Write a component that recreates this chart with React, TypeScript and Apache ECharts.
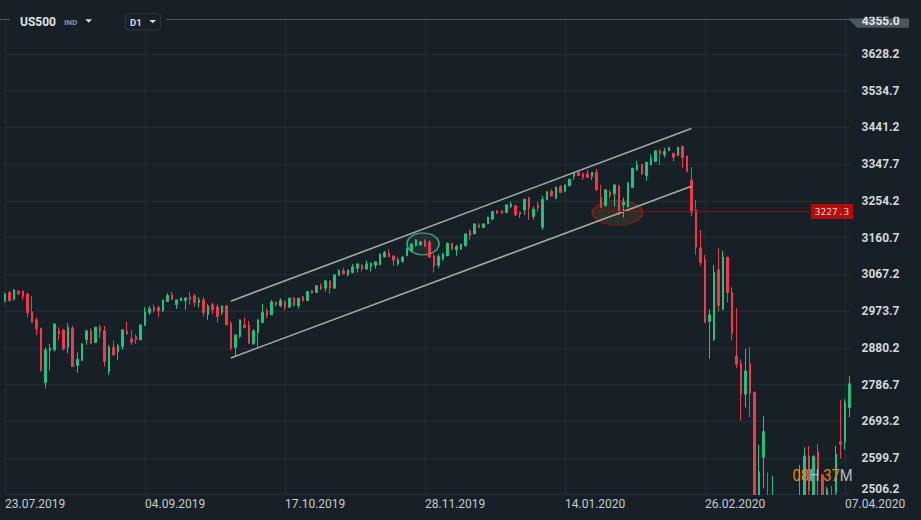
import React, { useEffect, useRef } from "react";
import * as echarts from "echarts";

// ---- data ----
const tickDates = ["23.07.2019", "04.09.2019", "17.10.2019", "28.11.2019", "14.01.2020", "26.02.2020", "07.04.2020"];
const barsPerTick = 31;

// each candle: [open, close, low, high]
const candles = [
  [3000.5, 3017.5, 2995.4, 3020.9], [3020.9, 3000.5, 2998.0, 3025.1], [3003.9, 3027.7, 3000.5, 3029.4], [3024.3, 3017.5, 3014.1, 3026.0],
  [3025.1, 3010.7, 3002.2, 3025.1], [3017.5, 2970.0, 2957.2, 3019.2], [2971.7, 2944.5, 2944.5, 3012.4], [2951.3, 2928.4, 2913.1, 2958.1],
  [2930.1, 2822.3, 2819.8, 2930.1], [2791.7, 2874.9, 2776.5, 2881.7], [2873.2, 2880.0, 2822.3, 2890.2], [2874.9, 2941.1, 2870.7, 2941.1],
  [2923.3, 2915.7, 2898.7, 2932.6], [2925.8, 2877.5, 2873.2, 2927.5], [2880.9, 2932.6, 2866.4, 2942.8], [2930.1, 2832.5, 2832.5, 2936.0],
  [2835.0, 2851.1, 2817.2, 2869.0], [2847.8, 2890.2, 2847.8, 2891.9], [2900.4, 2923.3, 2887.6, 2925.8], [2923.3, 2891.0, 2891.0, 2930.1],
  [2893.6, 2932.6, 2893.6, 2932.6], [2932.6, 2921.6, 2904.6, 2938.6], [2923.3, 2845.2, 2832.5, 2936.0], [2819.8, 2881.7, 2811.3, 2887.6],
  [2881.7, 2862.2, 2859.6, 2897.8], [2870.7, 2885.1, 2849.4, 2890.2], [2883.4, 2925.8, 2874.9, 2927.5], [2923.3, 2915.7, 2913.1, 2946.2],
  [2902.9, 2895.3, 2887.6, 2925.8], [2908.9, 2900.4, 2890.2, 2914.8], [2900.4, 2938.6, 2900.4, 2938.6], [2936.9, 2971.7, 2936.9, 2983.5],
  [2970.0, 2979.3, 2964.0, 2986.9], [2983.5, 2975.1, 2970.0, 2990.3], [2982.7, 2974.2, 2957.2, 2986.9], [2974.2, 3002.2, 2971.7, 3002.2],
  [2998.0, 3013.3, 2998.0, 3019.2], [3015.0, 3003.1, 3003.1, 3022.6], [2990.3, 3002.2, 2979.3, 3002.2], [2999.7, 3007.3, 2999.7, 3007.3],
  [3000.5, 3007.3, 2976.8, 3007.3], [3009.9, 3003.1, 2990.3, 3022.6], [3012.4, 2995.4, 2985.2, 3017.5], [2995.4, 3002.2, 2982.7, 3009.0],
  [3002.2, 2970.0, 2959.8, 3009.0], [2964.9, 2986.9, 2951.3, 2992.0], [2989.5, 2976.8, 2965.7, 2995.4], [2984.4, 2959.8, 2944.5, 2991.2],
  [2970.0, 2987.0, 2964.0, 2987.0], [2987.0, 2938.6, 2938.6, 2987.0], [2942.0, 2879.0, 2873.0, 2948.0], [2880.8, 2913.1, 2857.9, 2913.1],
  [2908.9, 2951.3, 2905.0, 2952.0], [2938.6, 2932.0, 2930.0, 2958.0], [2938.6, 2891.9, 2890.2, 2948.7], [2890.2, 2923.3, 2887.6, 2927.5],
  [2919.0, 2951.3, 2881.7, 2953.0], [2944.5, 2970.0, 2942.8, 2992.0], [2975.1, 2961.5, 2954.7, 2981.0], [2964.0, 2997.1, 2964.0, 3002.2],
  [2997.1, 2989.5, 2985.2, 2997.1], [2987.0, 3000.5, 2983.5, 3006.5], [2998.0, 2983.5, 2975.1, 3000.5], [2983.5, 3006.5, 2983.5, 3006.5],
  [3006.5, 2987.8, 2985.2, 3009.0], [2987.0, 3006.5, 2980.1, 3006.5], [3009.9, 3000.5, 2997.1, 3012.4], [3000.5, 3023.4, 3000.5, 3025.1],
  [3026.0, 3019.2, 3018.3, 3026.8], [3020.9, 3037.9, 3020.9, 3040.4], [3037.9, 3030.2, 3027.6, 3044.6], [3031.9, 3050.6, 3023.4, 3053.1],
  [3050.6, 3031.9, 3017.5, 3050.6], [3031.9, 3065.9, 3031.9, 3065.9], [3064.2, 3076.1, 3064.2, 3081.1], [3076.1, 3068.4, 3068.4, 3083.7],
  [3065.9, 3078.6, 3061.6, 3078.6], [3071.8, 3086.2, 3070.1, 3093.9], [3082.8, 3093.9, 3071.8, 3093.9], [3090.5, 3081.1, 3074.3, 3093.0],
  [3081.1, 3093.9, 3078.6, 3102.4], [3086.2, 3095.6, 3074.3, 3098.1], [3090.5, 3099.0, 3081.1, 3099.0], [3091.3, 3118.5, 3091.3, 3121.0],
  [3111.7, 3122.7, 3110.0, 3127.0], [3121.0, 3112.5, 3110.8, 3131.2], [3114.2, 3103.2, 3088.8, 3114.2], [3093.9, 3104.1, 3088.8, 3110.8],
  [3099.8, 3110.8, 3097.3, 3114.2], [3114.2, 3133.8, 3114.2, 3133.8], [3126.9, 3144.8, 3125.3, 3144.8], [3140.0, 3155.0, 3138.0, 3156.6],
  [3142.2, 3149.9, 3139.7, 3150.7], [3152.4, 3138.0, 3138.0, 3156.6], [3149.0, 3110.8, 3110.8, 3155.0], [3114.2, 3088.8, 3071.8, 3119.3],
  [3089.6, 3112.5, 3082.8, 3119.3], [3105.8, 3119.3, 3101.5, 3122.7], [3114.2, 3146.5, 3114.2, 3148.2], [3146.5, 3131.2, 3129.5, 3146.5],
  [3129.5, 3138.0, 3114.2, 3142.2], [3131.2, 3143.9, 3129.5, 3144.8], [3139.7, 3170.2, 3138.0, 3171.9], [3177.9, 3165.1, 3155.0, 3182.1],
  [3170.2, 3195.7, 3170.2, 3197.4], [3193.1, 3186.4, 3184.7, 3197.4], [3186.4, 3195.7, 3186.4, 3197.4], [3195.7, 3212.7, 3195.7, 3214.4],
  [3207.6, 3227.1, 3205.9, 3228.8], [3228.8, 3222.8, 3221.1, 3231.3], [3228.8, 3222.8, 3222.0, 3229.6], [3224.5, 3244.1, 3222.8, 3244.1],
  [3239.8, 3246.6, 3235.6, 3252.6], [3241.5, 3218.6, 3216.1, 3244.1], [3226.2, 3220.3, 3210.1, 3226.2], [3231.3, 3258.5, 3218.6, 3258.5],
  [3262.7, 3235.6, 3205.9, 3262.7], [3214.4, 3233.0, 3205.9, 3239.8], [3244.1, 3235.6, 3227.1, 3252.6], [3187.2, 3258.5, 3180.4, 3267.0],
  [3256.8, 3278.0, 3256.8, 3278.0], [3278.0, 3267.0, 3265.3, 3284.0], [3261.0, 3289.0, 3258.5, 3290.7], [3290.7, 3275.5, 3273.8, 3295.0],
  [3278.0, 3295.0, 3276.3, 3295.0], [3292.4, 3309.4, 3292.4, 3311.1], [3316.2, 3324.7, 3307.7, 3328.1], [3326.4, 3318.7, 3317.9, 3328.1],
  [3323.0, 3314.5, 3307.7, 3327.0], [3323.0, 3314.0, 3312.0, 3333.0], [3316.2, 3327.2, 3307.7, 3327.2], [3327.2, 3282.3, 3279.7, 3335.7],
  [3262.7, 3237.3, 3235.6, 3295.0], [3242.4, 3282.3, 3239.8, 3282.3], [3276.3, 3267.0, 3261.0, 3282.3], [3272.1, 3295.0, 3239.8, 3295.0],
  [3292.4, 3220.3, 3218.6, 3295.0], [3244.1, 3250.9, 3211.8, 3262.7], [3239.8, 3300.1, 3237.3, 3301.8], [3288.2, 3337.4, 3288.2, 3337.4],
  [3333.2, 3345.9, 3330.6, 3356.1], [3347.6, 3322.1, 3320.4, 3347.6], [3318.8, 3352.7, 3305.2, 3352.7], [3345.9, 3361.2, 3344.2, 3373.1],
  [3354.4, 3381.6, 3352.7, 3381.6], [3381.6, 3373.9, 3345.9, 3385.8], [3371.4, 3379.9, 3364.6, 3388.3], [3381.6, 3390.0, 3381.6, 3391.7],
  [3375.6, 3365.4, 3354.4, 3375.6], [3369.7, 3390.0, 3369.7, 3392.6], [3392.6, 3364.6, 3339.1, 3395.1], [3368.8, 3328.9, 3327.2, 3368.8],
  [3307.7, 3225.0, 3215.0, 3339.5], [3231.4, 3136.3, 3116.8, 3256.8], [3133.8, 3097.3, 3088.8, 3180.5], [3104.1, 2945.4, 2942.8, 3116.8],
  [2947.1, 2964.0, 2852.0, 2978.5], [2900.4, 3072.7, 2897.8, 3091.3], [3078.6, 2987.8, 2972.5, 3133.8], [2978.5, 3110.9, 2975.1, 3127.0],
  [3110.9, 3020.9, 2995.4, 3110.9], [3021.7, 2917.3, 2898.7, 3034.5], [2859.6, 2838.4, 2828.2, 2981.0], [2841.0, 2762.0, 2695.0, 2849.5],
  [2762.0, 2821.4, 2728.1, 2877.5], [2839.3, 2764.6, 2703.5, 2881.7], [2767.1, 2480.0, 2455.0, 2767.1], [2440.0, 2565.1, 2420.0, 2633.0],
  [2601.6, 2667.0, 2522.7, 2706.9], [2500.0, 2390.0, 2370.0, 2562.6], [2420.0, 2490.0, 2380.0, 2554.1], [2460.0, 2400.0, 2360.0, 2495.0],
  [2390.0, 2440.0, 2330.0, 2480.0], [2420.0, 2300.0, 2280.0, 2460.0], [2300.0, 2230.0, 2190.0, 2330.0], [2250.0, 2440.0, 2240.0, 2460.0],
  [2430.0, 2480.0, 2400.0, 2582.1], [2470.0, 2605.0, 2460.0, 2627.1], [2605.0, 2516.8, 2495.0, 2630.5], [2500.0, 2603.3, 2490.0, 2607.6],
  [2616.1, 2554.1, 2500.0, 2635.6], [2556.7, 2480.0, 2460.0, 2560.0], [2490.0, 2520.2, 2470.0, 2525.3], [2500.0, 2480.0, 2460.0, 2528.7],
  [2511.6, 2610.1, 2500.0, 2630.0], [2640.6, 2634.7, 2598.0, 2747.5], [2639.0, 2740.8, 2620.3, 2749.3], [2728.1, 2788.4, 2703.5, 2808.7],
];

const yMin = 2506.2;
const yMax = 3717.3;
const yStep = 93.5;
const topPriceLabel = "4355.0";

const levelPrice = 3227.3;
const levelFromIndex = 131;
const levelToIndex = 178;

const channelUpper = [[50, 2998.9], [152, 3438.6]];
const channelLower = [[50, 2854.5], [152, 3291.7]];

const greenMark = [93, 3144.8];
const redMark = [136, 3224.2];

const countdownHours = "08";
const countdownMinutes = "37";

const symbolName = "US500";
const symbolType = "IND";
const timeframe = "D1";

// ---- styles ----
const BG = "#172027";
const GRID = "#232d34";
const UP = "#22c17f";
const DOWN = "#f5374c";

const categories = candles.map((_, i) => (i % barsPerTick === 0 ? tickDates[i / barsPerTick] : "b" + i));

export default function App() {
  const ref = useRef<HTMLDivElement>(null);

  useEffect(() => {
    document.body.style.margin = "0";
    document.body.style.background = BG;
    const chart = echarts.init(ref.current as HTMLDivElement, null, { renderer: "svg" });

    const baseX = {
      type: "category",
      position: "bottom",
      data: categories,
      boundaryGap: false,
      axisLine: { show: false },
      axisTick: { show: false, interval: barsPerTick - 1 },
    };

    const option: any = {
      animation: false,
      backgroundColor: BG,
      textStyle: { fontFamily: "Roboto" },
      grid: { left: 5, right: 71.5, top: 19, bottom: 25.3, outerBoundsMode: "none", containLabel: false },
      xAxis: [
        {
          ...baseX,
          z: 0,
          axisLabel: { show: false, interval: barsPerTick - 1 },
          splitLine: { show: true, interval: barsPerTick - 1, lineStyle: { color: GRID, width: 1 } },
        },
        {
          ...baseX,
          z: 20,
          axisLabel: {
            interval: barsPerTick - 1,
            align: "left",
            margin: 3,
            color: "#c6cbcf",
            fontSize: 12,
            fontFamily: "Roboto",
            formatter: (v: string) => (v.charAt(0) === "b" ? "" : v),
          },
          splitLine: { show: false },
        },
      ],
      yAxis: {
        type: "value",
        position: "right",
        min: yMin,
        max: yMax,
        interval: yStep,
        axisLine: { show: false },
        axisTick: { show: false },
        axisLabel: {
          margin: 12,
          color: "#d3d7da",
          fontSize: 12,
          fontWeight: "bold",
          fontFamily: "Roboto",
          verticalAlignMinLabel: "bottom",
          formatter: (v: number) => (v > yMax - 1 ? "" : v.toFixed(1)),
        },
        splitLine: { show: true, lineStyle: { color: GRID, width: 1 } },
      },
      series: [
        {
          type: "scatter",
          z: 1,
          silent: true,
          symbol: "circle",
          xAxisIndex: 0,
          data: [
            {
              value: greenMark,
              symbolSize: [32, 22],
              symbolOffset: [-2, 0],
              itemStyle: { color: "rgba(90,170,130,0.12)", borderColor: "#5ab48f", borderWidth: 1.5 },
            },
            {
              value: redMark,
              symbolSize: [50, 25],
              symbolOffset: [-1.7, 0],
              itemStyle: { color: "rgba(150,120,40,0.22)", borderColor: "#9e1515", borderWidth: 1.5 },
            },
          ],
        },
        {
          type: "candlestick",
          z: 2,
          silent: true,
          xAxisIndex: 0,
          clip: true,
          barWidth: 2,
          data: candles,
          itemStyle: { color: UP, color0: DOWN, borderColor: UP, borderColor0: DOWN, borderWidth: 1 },
          markLine: {
            silent: true,
            symbol: "none",
            animation: false,
            lineStyle: { color: "#8e1111", width: 1, type: "solid" },
            label: {
              show: true,
              position: "end",
              distance: 2,
              formatter: levelPrice.toFixed(1),
              backgroundColor: "#b50b0b",
              color: "#f3d3d3",
              fontFamily: "DejaVu Sans Mono",
              fontSize: 9.5,
              padding: [3, 4, 2, 4],
            },
            data: [[{ coord: [levelFromIndex, levelPrice] }, { coord: [levelToIndex, levelPrice] }]],
          },
        },
        {
          type: "line",
          z: 3,
          silent: true,
          xAxisIndex: 0,
          showSymbol: false,
          symbol: "none",
          data: channelUpper,
          lineStyle: { color: "#a2aba8", width: 1.6 },
        },
        {
          type: "line",
          z: 3,
          silent: true,
          xAxisIndex: 0,
          showSymbol: false,
          symbol: "none",
          data: channelLower,
          lineStyle: { color: "#a2aba8", width: 1.6 },
        },
      ],
      graphic: [
        // mask below the plot so candles that fall under the axis minimum are cut off
        { type: "rect", z: 10, shape: { x: 0, y: 495, width: 857, height: 25 }, style: { fill: BG } },
        { type: "rect", z: 100, shape: { x: 10, y: 8, width: 156, height: 22 }, style: { fill: BG } },
        { type: "line", z: 100, shape: { x1: 0, y1: 19.5, x2: 10, y2: 19.5 }, style: { stroke: "#4a5661", lineWidth: 1 } },
        { type: "line", z: 100, shape: { x1: 166, y1: 19.5, x2: 849, y2: 19.5 }, style: { stroke: "#4a5661", lineWidth: 1 } },
        {
          type: "text", z: 101, x: 20, y: 22,
          style: { text: symbolName, fill: "#dfe3e6", fontSize: 12, fontWeight: "bold", fontFamily: "Roboto", verticalAlign: "middle", align: "left" },
        },
        {
          type: "text", z: 101, x: 64, y: 22.5,
          style: { text: symbolType, fill: "#8b949c", fontSize: 8, fontWeight: "bold", fontFamily: "Roboto", verticalAlign: "middle", align: "left" },
        },
        { type: "polygon", z: 101, shape: { points: [[85.3, 19.3], [92, 19.3], [88.7, 22.8]] }, style: { fill: "#d8dce0" } },
        {
          type: "rect", z: 101, shape: { x: 125.5, y: 13.5, width: 35, height: 16.5, r: 3 },
          style: { fill: "#182128", stroke: "#2c363e", lineWidth: 1 },
        },
        {
          type: "text", z: 102, x: 130, y: 22,
          style: { text: timeframe, fill: "#d8dce0", fontSize: 9.5, fontWeight: "bold", fontFamily: "Roboto", verticalAlign: "middle", align: "left" },
        },
        { type: "polygon", z: 102, shape: { points: [[149.3, 20], [156, 20], [152.7, 23.3]] }, style: { fill: "#d8dce0" } },
        { type: "polygon", z: 100, shape: { points: [[848, 18.5], [909, 18.5], [909, 27.7], [857, 27.7]] }, style: { fill: "#4b5761" } },
        {
          type: "text", z: 101, x: 861.7, y: 20.5,
          style: { text: topPriceLabel, fill: "#e3e6e8", fontSize: 12, fontWeight: "bold", fontFamily: "Roboto", verticalAlign: "middle", align: "left" },
        },
        { type: "rect", z: 102, shape: { x: 845, y: 0, width: 76, height: 16.7 }, style: { fill: BG } },
        {
          type: "text", z: 103, x: 792.5, y: 475.5, scaleX: 0.92,
          style: {
            text: "{o|" + countdownHours + "}{g|H }{o|" + countdownMinutes + "}{g|M}",
            fontSize: 16,
            fontFamily: "Roboto",
            verticalAlign: "middle",
            align: "left",
            rich: {
              o: { fill: "#e5870f", fontSize: 16, fontFamily: "Roboto" },
              g: { fill: "#b3b9be", fontSize: 16, fontFamily: "Roboto" },
            },
          },
        },
      ],
    };

    chart.setOption(option);
    return () => chart.dispose();
  }, []);

  return <div ref={ref} style={{ width: 921, height: 520, background: BG }} />;
}
